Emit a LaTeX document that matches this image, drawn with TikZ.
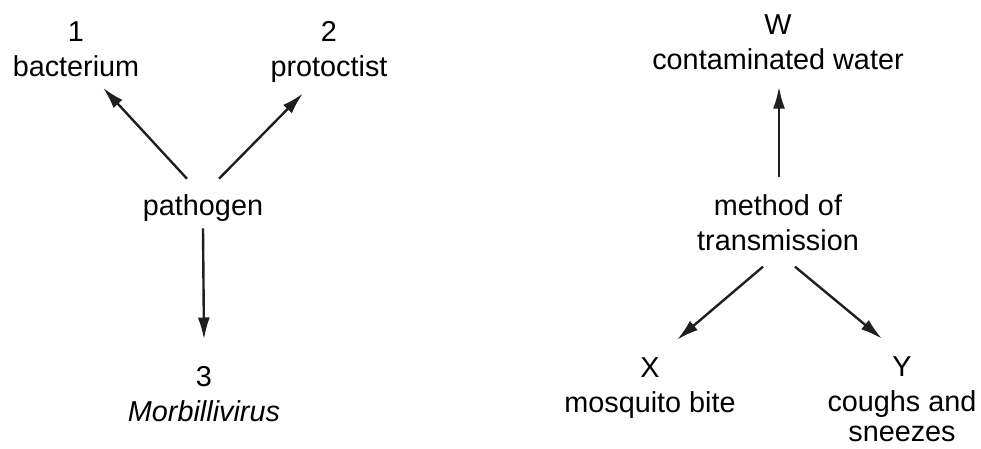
\documentclass[tikz,border=0pt]{standalone}
\usepackage{fontspec}
\setmainfont{Liberation Sans}
\usetikzlibrary{arrows.meta,calc}
\begin{document}
\begin{tikzpicture}[x=0.5pt,y=-0.5pt,
  every node/.style={inner sep=0pt,align=center,anchor=base,font=\fontsize{14.4}{17.5}\selectfont},
  arr/.style={-{Latex[length=11pt,width=6pt]},line width=1.2pt,draw=black!88}]
\useasboundingbox (0,0) rectangle (981,449);
% pathogen
\node (path) at (203,215) {pathogen};
\node (n1) at (76,77) {1\\bacterium};
\node (n2) at (329,77) {2\\protoctist};
\node (n3) at (204,421) {3\\\textit{Morbillivirus}};
\draw[arr] ($(path.north)+(-16,-15)$) -- ($(n1.south)+(27,10)$);
\draw[arr] ($(path.north)+(16,-15)$) -- ($(n2.south)+(-26,10)$);
\draw[arr] ($(path.south)+(0,7)$) -- ($(n3.north)+(0,-26)$);
% method of transmission
\node (meth) at (778,250) {method of\\transmission};
\node (w) at (778,70) {W\\contaminated water};
\node (x) at (650,412) {X\\mosquito bite};
\node (y) at (902,441) {Y\\coughs and\\[-2.5pt]sneezes};
\draw[arr] ($(meth.north)+(1,-17)$) -- ($(w.south)+(1,16)$);
\draw[arr] ($(meth.south)+(-15,16)$) -- ($(x.north)+(27,-17)$);
\draw[arr] ($(meth.south)+(17,16)$) -- ($(y.north)+(-20,-17)$);
\end{tikzpicture}
\end{document}
